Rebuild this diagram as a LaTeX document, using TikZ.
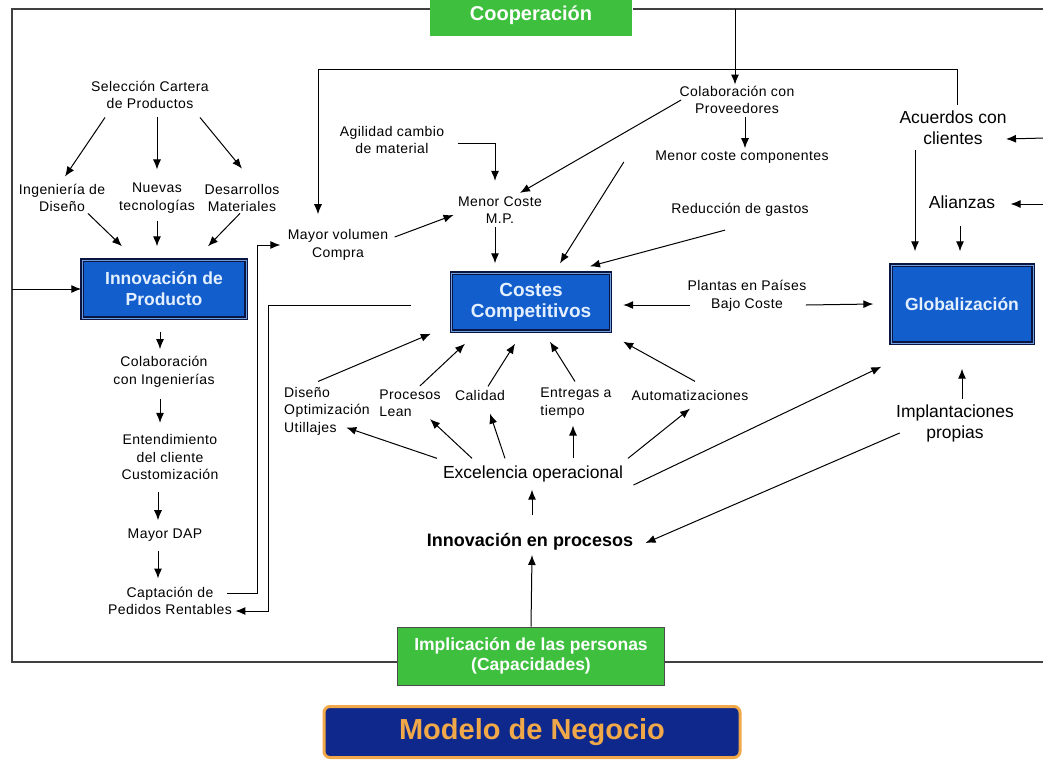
\documentclass[tikz,border=0pt]{standalone}
\usepackage{fontspec}
\setmainfont{Liberation Sans}
\newfontfamily\lsfont[LetterSpace=3]{Liberation Sans}
\usepackage{tikz}
\usetikzlibrary{arrows.meta}

\definecolor{boxblue}{RGB}{18,94,205}
\definecolor{navyd}{RGB}{10,22,64}
\definecolor{boxtext}{RGB}{228,240,255}
\definecolor{coopgreen}{RGB}{62,192,62}
\definecolor{modelblue}{RGB}{14,40,140}
\definecolor{modelorange}{RGB}{240,168,72}

\begin{document}
\begin{tikzpicture}[x=1pt, y=-1pt, line width=1pt, >={Latex[length=10pt,width=8pt]},
	txt/.style={font=\lsfont\fontsize{14}{17.5}\selectfont, align=center, inner sep=1pt},
	txtl/.style={txt, align=left},
	bigtxt/.style={font=\fontsize{17.5}{21}\selectfont, align=center, inner sep=1pt},
	bluebox/.style={draw=navyd, line width=1.4pt, double=boxblue!60!white, double distance=1pt, fill=boxblue, text=boxtext, font=\bfseries\fontsize{17.5}{21}\selectfont, align=center},
	greenbox/.style={fill=coopgreen, text=white, font=\bfseries\fontsize{17.5}{20}\selectfont, align=center, inner sep=0pt},
	frame/.style={draw=black!75, line width=1.2pt}]
	%\draw[help lines] (0,0) grid[step=50] (1043,761);
	\useasboundingbox (0,0) rectangle (1043,761);

	% cajas
	\node[greenbox, minimum width=202pt, minimum height=41pt] (coop) at (531,15) {\fontsize{20}{22}\selectfont Cooperación};
	\node[bluebox, minimum width=164pt, minimum height=58pt] (innprod) at (164,289) {Innovación de\\Producto};
	\node[bluebox, minimum width=159pt, minimum height=58pt, font=\bfseries\fontsize{19}{21}\selectfont] (costes) at (531,302) {Costes\\Competitivos};
	\node[bluebox, minimum width=142pt, minimum height=78pt] (glob) at (962,304) {Globalización};
	\node[greenbox, draw=black!70, line width=1pt, minimum width=267pt, minimum height=58pt] (impl) at (531,656) {Implicación de las personas\\(Capacidades)};
	\node[draw=modelorange, line width=3pt, rounded corners=6pt, fill=modelblue, text=modelorange, font=\bfseries\fontsize{29}{31}\selectfont, minimum width=416pt, minimum height=51pt] (modelo) at (532,732) {Modelo de Negocio};

	% textos
	\node[txt] (selec) at (150,95) {Selección Cartera\\de Productos};
	\node[txt] (inged) at (62,198) {Ingeniería de\\Diseño};
	\node[txt] (nuevas) at (157,198) {Nuevas\\tecnologías};
	\node[txt] (desarr) at (242,198) {Desarrollos\\Materiales};
	\node[txt] (colaing) at (164,372) {Colaboración\\con Ingenierías};
	\node[txt] (entend) at (170,457) {Entendimiento\\del cliente\\Customización};
	\node[txt] (dap) at (165,535) {Mayor DAP};
	\node[txt] (capt) at (170,601) {Captación de\\Pedidos Rentables};
	\node[txt] (mayorvol) at (338,245) {Mayor volumen\\Compra};
	\node[txt] (agil) at (392,140) {Agilidad cambio\\de material};
	\node[txt] (mcmp) at (500,210) {Menor Coste\\M.P.};
	\node[txt] (colprov) at (737,100) {Colaboración con\\Proveedores};
	\node[txt] (menorcomp) at (742,157) {Menor coste componentes};
	\node[txt] (reduc) at (740,210) {Reducción de gastos};
	\node[txt] (plantas) at (747,296) {Plantas en Países\\Bajo Coste};
	\node[txtl] (diseno) at (327,411) {Diseño\\Optimización\\Utillajes};
	\node[txtl] (lean) at (410,403) {Procesos\\Lean};
	\node[txt] (calidad) at (480,395) {Calidad};
	\node[txtl] (entregas) at (576,403) {Entregas a\\tiempo};
	\node[txt] (autom) at (690,395) {Automatizaciones};
	\node[bigtxt] (excel) at (533,474) {Excelencia operacional};
	\node[bigtxt, font=\bfseries\fontsize{18}{21}\selectfont] (innproc) at (530,542) {Innovación en procesos};
	\node[bigtxt] (acuerdos) at (953,128) {Acuerdos con\\clientes};
	\node[bigtxt] (alianzas) at (962,202) {Alianzas};
	\node[bigtxt] (implant) at (955,423) {Implantaciones\\propias};

	\coordinate (tl) at (12,9);
	\coordinate (bl) at (12,662);
	\coordinate (coopin) at (735,9);
	\coordinate (leftin) at (12,289);
	\coordinate (racu) at (1045,138);
	\coordinate (rali) at (1045,204);

	% marco
	\draw[frame] (coop.west |- tl) -- (tl) -- (bl) -- (impl.west |- bl);
	\draw[frame] (coop.east |- tl) -- ++(420,0);
	\draw[frame] (impl.east |- bl) -- ++(400,0);

	% cartera de productos
	\draw[->] ([shift={(-45pt,-7pt)}]selec.south) -- ([shift={(3pt,6pt)}]inged.north);
	\draw[->] ([shift={(7pt,-7pt)}]selec.south) -- ([yshift=12pt]nuevas.north);
	\draw[->] ([shift={(50pt,-7pt)}]selec.south) -- ([yshift=14pt]desarr.north);
	\draw[->] ([xshift=26pt]inged.south) -- ([shift={(-42pt,13pt)}]innprod.north);
	\draw[->] ([yshift=-6pt]nuevas.south) -- ([shift={(-7pt,13pt)}]innprod.north);
	\draw[->] ([xshift=-2pt]desarr.south) -- ([shift={(44pt,13pt)}]innprod.north);
	\draw[->] (leftin) -- (innprod.west);

	% columna izquierda
	\draw[->] ([shift={(-4pt,-13pt)}]innprod.south) -- ([shift={(-4pt,6pt)}]colaing.north);
	\draw[->] ([shift={(-4pt,-10pt)}]colaing.south) -- ([shift={(-10pt,10pt)}]entend.north);
	\draw[->] ([shift={(-12pt,-11pt)}]entend.south) -- ([shift={(-7pt,7pt)}]dap.north);
	\draw[->] ([shift={(-7pt,-8pt)}]dap.south) -- ([shift={(-12pt,7pt)}]capt.north);
	\draw[->] ([shift={(-6pt,8pt)}]capt.east) -- ++(30,0) |- ([xshift=-6pt]mayorvol.west);
	\draw[->] ([shift={(-40pt,-3pt)}]costes.west) -- ++(-142,0) |- ([shift={(2pt,-10pt)}]capt.east);

	% lazo superior
	\draw[->] ([shift={(4pt,5pt)}]acuerdos.north) -- ++(0,-35) -| ([shift={(-20pt,14pt)}]mayorvol.north);
	\draw[->] (coopin) -- ([xshift=-2pt]colprov.north);

	% costes competitivos
	\draw[->] ([shift={(8pt,-2pt)}]colprov.south) -- ([shift={(3pt,1pt)}]menorcomp.north);
	\draw[->] ([xshift=3pt]colprov.west) -- ([shift={(20pt,2pt)}]mcmp.north);
	\draw[->] ([shift={(12pt,-3pt)}]agil.east) -| ([shift={(-5pt,14pt)}]mcmp.north);
	\draw[->] ([shift={(5pt,8pt)}]mayorvol.east) -- ([shift={(-3pt,-5pt)}]mcmp.west);
	\draw[->] ([shift={(-5pt,-2pt)}]mcmp.south) -- ([shift={(-36pt,9pt)}]costes.north);
	\draw[->] ([shift={(-30pt,-5pt)}]menorcomp.west) -- ([shift={(29pt,9pt)}]costes.north);
	\draw[->] ([shift={(-15pt,-12pt)}]reduc.south) -- ([shift={(59pt,6pt)}]costes.north);
	\draw[->] ([shift={(4pt,-9pt)}]plantas.west) -- ([shift={(12pt,-3pt)}]costes.east);
	\draw[->] ([shift={(-2pt,-9pt)}]plantas.east) -- ([xshift=-17pt]glob.west);

	% globalizacion
	\draw[->] ([shift={(-38pt,-4pt)}]acuerdos.south) -- ([shift={(-47pt,13pt)}]glob.north);
	\draw[->] ([shift={(-2pt,-16pt)}]alianzas.south) -- ([shift={(-2pt,13pt)}]glob.north);
	\draw[->] (racu) -- ([shift={(-2pt,-11pt)}]acuerdos.east);
	\draw[->] (rali) -- ([shift={(14pt,-2pt)}]alianzas.east);
	\draw[->] ([shift={(7pt,4pt)}]implant.north) -- ([yshift=-25pt]glob.south);
	\draw[->] ([shift={(5pt,-10pt)}]implant.west) -- ([shift={(11pt,-1pt)}]innproc.east);
	\draw[->] ([shift={(9pt,-11pt)}]excel.east) -- ([shift={(-9pt,-23pt)}]glob.south west);

	% procesos
	\draw[->] ([shift={(2pt,17pt)}]innproc.north) -- ([shift={(-1pt,-6pt)}]excel.south);
	\draw[->] (impl.north) -- ([shift={(2pt,-3pt)}]innproc.south);

	% excelencia operacional
	\draw[->] ([shift={(-96pt,6pt)}]excel.north) -- ([shift={(-25pt,9pt)}]diseno.south east);
	\draw[->] ([shift={(-61pt,6pt)}]excel.north) -- ([shift={(20pt,-1pt)}]lean.south);
	\draw[->] ([shift={(-28pt,6pt)}]excel.north) -- ([shift={(10pt,-12pt)}]calidad.south);
	\draw[->] ([shift={(40pt,6pt)}]excel.north) -- ([shift={(-3pt,-6pt)}]entregas.south);
	\draw[->] ([shift={(95pt,6pt)}]excel.north) -- ([yshift=-7pt]autom.south);
	\draw[->] ([shift={(-9pt,4pt)}]diseno.north) -- ([shift={(-20pt,-2pt)}]costes.south west);
	\draw[->] ([shift={(10pt,2pt)}]lean.north) -- ([shift={(-66pt,-12pt)}]costes.south);
	\draw[->] ([shift={(8pt,2pt)}]calidad.north) -- ([shift={(-16pt,-12pt)}]costes.south);
	\draw[->] ([shift={(-1pt,5pt)}]entregas.north) -- ([shift={(19pt,-10pt)}]costes.south);
	\draw[->] ([shift={(5pt,7pt)}]autom.north) -- ([shift={(12pt,-10pt)}]costes.south east);
\end{tikzpicture}
\end{document}
